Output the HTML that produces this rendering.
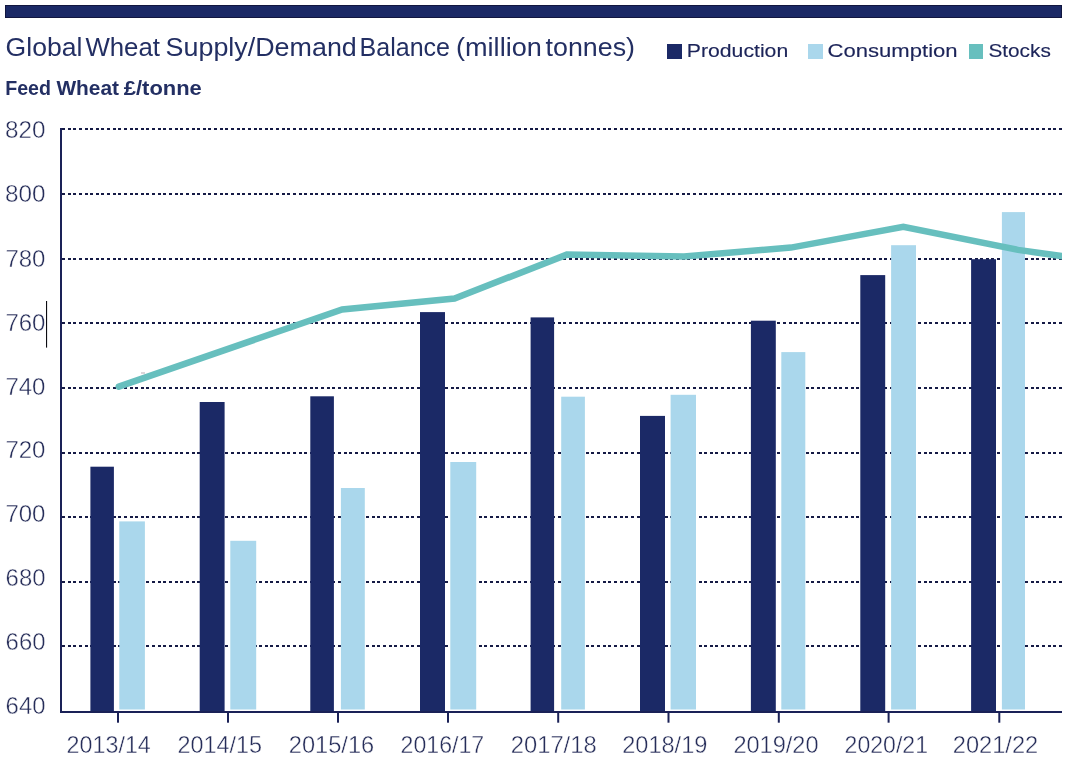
<!DOCTYPE html>
<html><head><meta charset="utf-8"><title>Global Wheat Supply/Demand Balance</title>
<style>
html,body{margin:0;padding:0;background:#fff;}
body{width:1077px;height:772px;overflow:hidden;}
svg{display:block;font-family:"Liberation Sans",sans-serif;will-change:transform;}
</style></head><body>
<svg width="1077" height="772" viewBox="0 0 1077 772">
<rect x="0" y="0" width="1077" height="772" fill="#ffffff"/>
<rect x="5.5" y="5.5" width="1056" height="12" fill="#1b2966" stroke="#11163f" stroke-width="1"/>
<text x="5.60" y="56.3" font-size="26.1" fill="#232f63" textLength="76.80" lengthAdjust="spacingAndGlyphs">Global</text>
<text x="85.40" y="56.3" font-size="26.1" fill="#232f63" textLength="74.60" lengthAdjust="spacingAndGlyphs">Wheat</text>
<text x="165.60" y="56.3" font-size="26.1" fill="#232f63" textLength="191.20" lengthAdjust="spacingAndGlyphs">Supply/Demand</text>
<text x="359.60" y="56.3" font-size="26.1" fill="#232f63" textLength="90.40" lengthAdjust="spacingAndGlyphs">Balance</text>
<text x="456.00" y="56.3" font-size="26.1" fill="#232f63" textLength="85.80" lengthAdjust="spacingAndGlyphs">(million</text>
<text x="545.60" y="56.3" font-size="26.1" fill="#232f63" textLength="89.40" lengthAdjust="spacingAndGlyphs">tonnes)</text>
<text x="5.20" y="94.8" font-size="19.4" font-weight="bold" fill="#232f63" textLength="45.80" lengthAdjust="spacingAndGlyphs">Feed</text>
<text x="56.40" y="94.8" font-size="19.4" font-weight="bold" fill="#232f63" textLength="62.60" lengthAdjust="spacingAndGlyphs">Wheat</text>
<text x="123.80" y="94.8" font-size="19.4" font-weight="bold" fill="#232f63" textLength="78.00" lengthAdjust="spacingAndGlyphs">£/tonne</text>
<rect x="667" y="44" width="15" height="15" fill="#1b2966"/>
<text x="686.80" y="56.8" font-size="19.2" stroke="#1c2459" stroke-width="0.15" fill="#1c2459" textLength="101.40" lengthAdjust="spacingAndGlyphs">Production</text>
<rect x="808" y="44" width="15" height="15" fill="#aad7ec"/>
<text x="827.60" y="56.8" font-size="19.2" stroke="#1c2459" stroke-width="0.15" fill="#1c2459" textLength="130.00" lengthAdjust="spacingAndGlyphs">Consumption</text>
<rect x="969" y="44" width="14" height="15" fill="#67bfbe"/>
<text x="988.40" y="56.8" font-size="19.2" stroke="#1c2459" stroke-width="0.15" fill="#1c2459" textLength="62.40" lengthAdjust="spacingAndGlyphs">Stocks</text>
<text x="5.00" y="138.0" font-size="24" stroke="#ffffff" stroke-width="0.42" fill="#262d59" textLength="40.50" lengthAdjust="spacingAndGlyphs">820</text>
<text x="5.00" y="202.0" font-size="24" stroke="#ffffff" stroke-width="0.42" fill="#262d59" textLength="40.50" lengthAdjust="spacingAndGlyphs">800</text>
<text x="5.40" y="267.0" font-size="24" stroke="#ffffff" stroke-width="0.42" fill="#262d59" textLength="40.10" lengthAdjust="spacingAndGlyphs">780</text>
<text x="5.40" y="331.0" font-size="24" stroke="#ffffff" stroke-width="0.42" fill="#262d59" textLength="40.10" lengthAdjust="spacingAndGlyphs">760</text>
<text x="5.40" y="395.0" font-size="24" stroke="#ffffff" stroke-width="0.42" fill="#262d59" textLength="40.10" lengthAdjust="spacingAndGlyphs">740</text>
<text x="5.40" y="458.0" font-size="24" stroke="#ffffff" stroke-width="0.42" fill="#262d59" textLength="40.10" lengthAdjust="spacingAndGlyphs">720</text>
<text x="5.40" y="522.0" font-size="24" stroke="#ffffff" stroke-width="0.42" fill="#262d59" textLength="40.10" lengthAdjust="spacingAndGlyphs">700</text>
<text x="5.60" y="586.0" font-size="24" stroke="#ffffff" stroke-width="0.42" fill="#262d59" textLength="39.90" lengthAdjust="spacingAndGlyphs">680</text>
<text x="5.60" y="650.0" font-size="24" stroke="#ffffff" stroke-width="0.42" fill="#262d59" textLength="39.90" lengthAdjust="spacingAndGlyphs">660</text>
<text x="5.60" y="714.0" font-size="24" stroke="#ffffff" stroke-width="0.42" fill="#262d59" textLength="39.90" lengthAdjust="spacingAndGlyphs">640</text>
<rect x="46" y="301" width="1.1" height="46.6" fill="#0c0c12"/>
<line x1="62" y1="129.0" x2="1062" y2="129.0" stroke="#151a45" stroke-width="2" stroke-dasharray="3 2.6328" shape-rendering="crispEdges"/>
<line x1="62" y1="194.0" x2="1062" y2="194.0" stroke="#151a45" stroke-width="2" stroke-dasharray="3 2.6328" shape-rendering="crispEdges"/>
<line x1="62" y1="259.0" x2="1062" y2="259.0" stroke="#151a45" stroke-width="2" stroke-dasharray="3 2.6328" shape-rendering="crispEdges"/>
<line x1="62" y1="323.0" x2="1062" y2="323.0" stroke="#151a45" stroke-width="2" stroke-dasharray="3 2.6328" shape-rendering="crispEdges"/>
<line x1="62" y1="388.0" x2="1062" y2="388.0" stroke="#151a45" stroke-width="2" stroke-dasharray="3 2.6328" shape-rendering="crispEdges"/>
<line x1="62" y1="453.0" x2="1062" y2="453.0" stroke="#151a45" stroke-width="2" stroke-dasharray="3 2.6328" shape-rendering="crispEdges"/>
<line x1="62" y1="517.0" x2="1062" y2="517.0" stroke="#151a45" stroke-width="2" stroke-dasharray="3 2.6328" shape-rendering="crispEdges"/>
<line x1="62" y1="582.0" x2="1062" y2="582.0" stroke="#151a45" stroke-width="2" stroke-dasharray="3 2.6328" shape-rendering="crispEdges"/>
<line x1="62" y1="646.0" x2="1062" y2="646.0" stroke="#151a45" stroke-width="2" stroke-dasharray="3 2.6328" shape-rendering="crispEdges"/>
<rect x="119.3" y="521.4" width="25.6" height="188.1" fill="#aad7ec"/>
<rect x="230.3" y="540.8" width="25.9" height="168.7" fill="#aad7ec"/>
<rect x="340.9" y="488" width="23.9" height="221.5" fill="#aad7ec"/>
<rect x="450.3" y="462" width="25.9" height="247.5" fill="#aad7ec"/>
<rect x="561.2" y="396.7" width="23.7" height="312.8" fill="#aad7ec"/>
<rect x="670.6" y="394.8" width="25.4" height="314.7" fill="#aad7ec"/>
<rect x="781.3" y="352.1" width="24.0" height="357.4" fill="#aad7ec"/>
<rect x="891.1" y="245.2" width="24.9" height="464.3" fill="#aad7ec"/>
<rect x="1001.9" y="212.1" width="23.1" height="497.4" fill="#aad7ec"/>
<rect x="90.4" y="466.7" width="23.5" height="245.3" fill="#1b2966"/>
<rect x="199.7" y="402" width="24.9" height="310.0" fill="#1b2966"/>
<rect x="310.3" y="396.3" width="23.6" height="315.7" fill="#1b2966"/>
<rect x="420" y="312.1" width="25.0" height="399.9" fill="#1b2966"/>
<rect x="530.6" y="317.4" width="23.5" height="394.6" fill="#1b2966"/>
<rect x="640" y="415.9" width="25.0" height="296.1" fill="#1b2966"/>
<rect x="750.9" y="320.7" width="24.9" height="391.3" fill="#1b2966"/>
<rect x="860.3" y="275.1" width="24.9" height="436.9" fill="#1b2966"/>
<rect x="971.1" y="259.2" width="24.9" height="452.8" fill="#1b2966"/>
<rect x="60" y="128" width="2" height="585" fill="#1a2157"/>
<rect x="60" y="711" width="1002" height="2" fill="#1a2157"/>
<rect x="117.0" y="712" width="2" height="10.7" fill="#1a2157"/>
<rect x="227.0" y="712" width="2" height="10.7" fill="#1a2157"/>
<rect x="337.0" y="712" width="2" height="10.7" fill="#1a2157"/>
<rect x="447.0" y="712" width="2" height="10.7" fill="#1a2157"/>
<rect x="557.2" y="712" width="2" height="10.7" fill="#1a2157"/>
<rect x="667.5" y="712" width="2" height="10.7" fill="#1a2157"/>
<rect x="777.8" y="712" width="2" height="10.7" fill="#1a2157"/>
<rect x="887.6" y="712" width="2" height="10.7" fill="#1a2157"/>
<rect x="998.3" y="712" width="2" height="10.7" fill="#1a2157"/>
<rect x="141" y="372" width="4" height="2" fill="#dbd5d9"/>
<defs><clipPath id="c"><rect x="0" y="0" width="1062" height="772"/></clipPath></defs>
<polyline points="118.8,386.6 342.2,309.4 454.5,298.6 566.8,254.6 684,256.45 790.9,247.6 903.3,226.7 1018,249.9 1064,256.4" fill="none" stroke="#67bfbe" stroke-width="6.5" stroke-linecap="round" stroke-linejoin="miter" clip-path="url(#c)"/>
<text x="66.60" y="753.0" font-size="24" stroke="#ffffff" stroke-width="0.42" fill="#262d59" textLength="84.20" lengthAdjust="spacingAndGlyphs">2013/14</text>
<text x="177.40" y="753.0" font-size="24" stroke="#ffffff" stroke-width="0.42" fill="#262d59" textLength="84.60" lengthAdjust="spacingAndGlyphs">2014/15</text>
<text x="288.80" y="753.0" font-size="24" stroke="#ffffff" stroke-width="0.42" fill="#262d59" textLength="85.40" lengthAdjust="spacingAndGlyphs">2015/16</text>
<text x="400.60" y="753.0" font-size="24" stroke="#ffffff" stroke-width="0.42" fill="#262d59" textLength="83.60" lengthAdjust="spacingAndGlyphs">2016/17</text>
<text x="510.80" y="753.0" font-size="24" stroke="#ffffff" stroke-width="0.42" fill="#262d59" textLength="85.80" lengthAdjust="spacingAndGlyphs">2017/18</text>
<text x="622.20" y="753.0" font-size="24" stroke="#ffffff" stroke-width="0.42" fill="#262d59" textLength="85.20" lengthAdjust="spacingAndGlyphs">2018/19</text>
<text x="733.40" y="753.0" font-size="24" stroke="#ffffff" stroke-width="0.42" fill="#262d59" textLength="85.20" lengthAdjust="spacingAndGlyphs">2019/20</text>
<text x="844.60" y="753.0" font-size="24" stroke="#ffffff" stroke-width="0.42" fill="#262d59" textLength="83.40" lengthAdjust="spacingAndGlyphs">2020/21</text>
<text x="952.80" y="753.0" font-size="24" stroke="#ffffff" stroke-width="0.42" fill="#262d59" textLength="85.40" lengthAdjust="spacingAndGlyphs">2021/22</text>
</svg></body></html>
